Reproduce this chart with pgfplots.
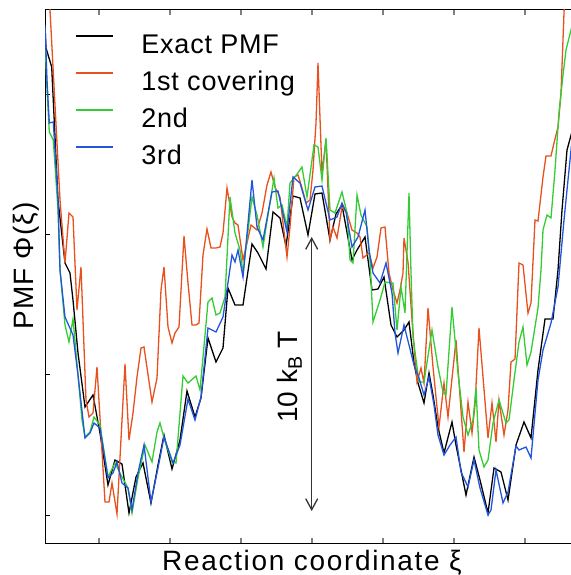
\documentclass[border=0pt]{standalone}
\usepackage{fontspec}
\setmainfont{Liberation Sans}
\usepackage{pgfplots}
\pgfplotsset{compat=1.18}
\usetikzlibrary{arrows.meta}
\definecolor{cred}{HTML}{E8501E}
\definecolor{cgreen}{HTML}{33CC33}
\definecolor{cblue}{HTML}{2255DD}
\begin{document}
\begin{tikzpicture}
\begin{axis}[
  at={(45bp,32bp)}, anchor=south west,
  scale only axis, width=528bp, height=533bp,
  xmin=45, xmax=573, ymin=10, ymax=543, y dir=reverse,
  xtick={99,170,241,312,383,454,525}, ytick={94,234,374,515},
  xticklabels={}, yticklabels={},
  tick align=inside, major tick length=5bp,
  xtick style={gray, line width=1.2bp},
  ytick style={black, line width=1bp},
  ytick pos=left,
  axis line style={line width=1bp},
  legend style={draw=none, fill=none, at={(axis cs:75,33)}, anchor=north west,
    inner sep=0pt, outer sep=0pt, column sep=28bp, row sep=11bp,
    font=\fontsize{27bp}{32bp}\selectfont\addfontfeatures{LetterSpace=3},
    nodes={inner sep=0pt, outer sep=0pt, text height=20bp, text depth=6bp}},
  legend cell align=left,
  legend image code/.code={\draw[#1] (0bp,10bp) -- (37bp,10bp);},
  every axis plot/.append style={line width=1.3bp},
]
\addplot[black] coordinates {(45,25) (46,48) (51.7,67) (58,200) (65,263) (70,273) (73,300) (78,353) (85,407) (93,395) (100,433) (108,485) (115,460) (122,464) (129,513) (136,477) (143,463) (151,503) (158,465) (164,435) (172,469) (180,440) (187,391) (195,417) (201,398) (208,338) (216,362) (223,348) (228,288) (235,305) (243,305) (252,244) (258,253) (266,269) (273,212) (280,218) (286,246) (293,196) (300,198) (308,235) (315,194) (322,193) (330,240) (336,214) (342,205) (352,260) (357,250) (365,237) (372,290) (378,289) (384,277) (391,325) (397,337) (404,330) (409,322) (414,363) (418,383) (424,403) (429,373) (433,395) (438,427) (444,453) (452,422) (456,445) (461,470) (466,495) (474,457) (480,480) (488,513) (494,468) (501,472) (508,500) (516,445) (524,422) (531,438) (538,370) (545,319) (553,319) (558,270) (562,210) (567,150) (573,128)};
\addlegendentry{Exact PMF}
\addplot[cred] coordinates {(47,-30) (50,10) (60,200) (65,263) (69,213) (73,217) (77,310) (81,267) (86,400) (89,417) (93,413) (97,367) (105,502) (109,502) (112,483) (117,514) (125,364) (129,440) (133,413) (137,377) (141,348) (144,347) (152,402) (157,378) (161,290) (164,267) (168,327) (172,343) (175,333) (179,327) (184,236) (188,283) (192,325) (196,325) (199,323) (203,255) (207,229) (211,248) (216,248) (220,247) (223,233) (227,188) (232,217) (235,223) (238,225) (243,260) (247,243) (251,225) (257,230) (262,213) (267,185) (271,172) (275,187) (280,197) (287,257) (290,227) (294,177) (298,175) (302,188) (306,203) (310,200) (313,170) (316,123) (318,63) (322,173) (326,140) (330,240) (333,227) (337,238) (342,207) (347,213) (352,230) (357,233) (360,237) (363,258) (369,253) (373,268) (377,257) (381,228) (385,227) (389,273) (393,290) (397,303) (400,290) (403,273) (404,238) (408,262) (412,320) (417,382) (421,368) (424,383) (428,308) (433,367) (439,427) (444,383) (448,417) (456,340) (464,452) (468,402) (472,433) (475,405) (479,328) (488,438) (492,403) (496,442) (499,400) (504,435) (508,410) (511,362) (515,359) (519,263) (523,265) (528,313) (531,303) (535,220) (538,221) (543,177) (546,156) (551,156) (554,143) (558,127) (561,93) (564,13) (566,-30)};
\addlegendentry{1st covering}
\addplot[cgreen] coordinates {(45,40) (47,90) (49.3,132) (53.3,140) (58,210) (60,270) (65,325) (69,342) (73,319) (78,375) (82,420) (85,437) (90,432) (94,417) (100,425) (108,477) (115,463) (122,477) (128,488) (132,513) (138,478) (145,445) (152,462) (157,432) (160,423) (164,438) (172,462) (176,463) (183,376) (188,383) (196,376) (200,390) (208,302) (212,298) (216,315) (220,313) (225,297) (230,197) (235,233) (240,250) (243,273) (252,197) (257,215) (263,247) (268,215) (274,178) (278,208) (282,205) (287,227) (290,183) (295,177) (302,167) (307,197) (314,145) (318,147) (322,180) (326,138) (330,210) (335,213) (342,192) (347,213) (350,260) (353,263) (357,195) (361,215) (367,227) (370,260) (373,322) (380,300) (385,282) (393,283) (397,330) (401,287) (405,313) (409,193) (411,273) (413,337) (419,382) (424,382) (432,330) (438,367) (443,392) (446,395) (452,307) (458,373) (463,417) (468,435) (473,420) (476,388) (479,450) (484,467) (488,460) (493,423) (499,400) (506,423) (509,420) (514,380) (519,342) (523,327) (527,365) (531,352) (538,308) (541,270) (543,230) (547,215) (551,218) (555,170) (559,113) (563,75) (566,50) (573,22)};
\addlegendentry{2nd}
\addplot[cblue] coordinates {(45,25) (47,80) (49.3,123) (53.3,122) (58,200) (60,270) (65,317) (73,335) (78,375) (85,438) (90,433) (94,423) (100,428) (108,478) (113,473) (117,462) (122,483) (128,488) (132,510) (138,473) (144,445) (151,502) (158,468) (164,437) (173,463) (180,445) (188,399) (195,420) (201,397) (208,328) (216,332) (223,317) (232,255) (235,262) (238,250) (243,277) (252,180) (257,227) (263,240) (272,192) (278,191) (287,232) (293,177) (300,183) (308,210) (315,187) (322,186) (330,220) (337,217) (342,203) (346,212) (352,247) (358,237) (365,210) (369,250) (373,273) (380,283) (386,263) (392,293) (395,333) (398,353) (404,325) (409,345) (414,365) (419,378) (424,395) (429,377) (434,405) (438,435) (444,455) (450,445) (456,437) (461,472) (468,487) (474,460) (480,488) (488,515) (491,510) (496,470) (503,503) (508,492) (516,446) (519,450) (526,447) (531,458) (538,380) (543,350) (551,323) (558,287) (564,220) (573,130)};
\addlegendentry{3rd}
\draw[{Straight Barb[length=11bp,width=12bp]}-{Straight Barb[length=11bp,width=12bp]}, line width=1.3bp, black!80] (axis cs:311.7,237) -- (axis cs:311.7,511);
\end{axis}
\node[rotate=90, anchor=base, font=\fontsize{28bp}{34bp}\selectfont] at (297bp,198bp) {10 k\textsubscript{B} T};
\node[rotate=90, anchor=base, font=\fontsize{28bp}{34bp}\selectfont\addfontfeatures{LetterSpace=4}] at (33bp,309bp) {PMF Φ(ξ)};
\node[anchor=base, font=\fontsize{28bp}{34bp}\selectfont\addfontfeatures{LetterSpace=6}] at (312bp,5bp) {Reaction coordinate ξ};
\pgfresetboundingbox
\path[use as bounding box] (0,0) rectangle (571bp,575bp);
\end{tikzpicture}
\end{document}
